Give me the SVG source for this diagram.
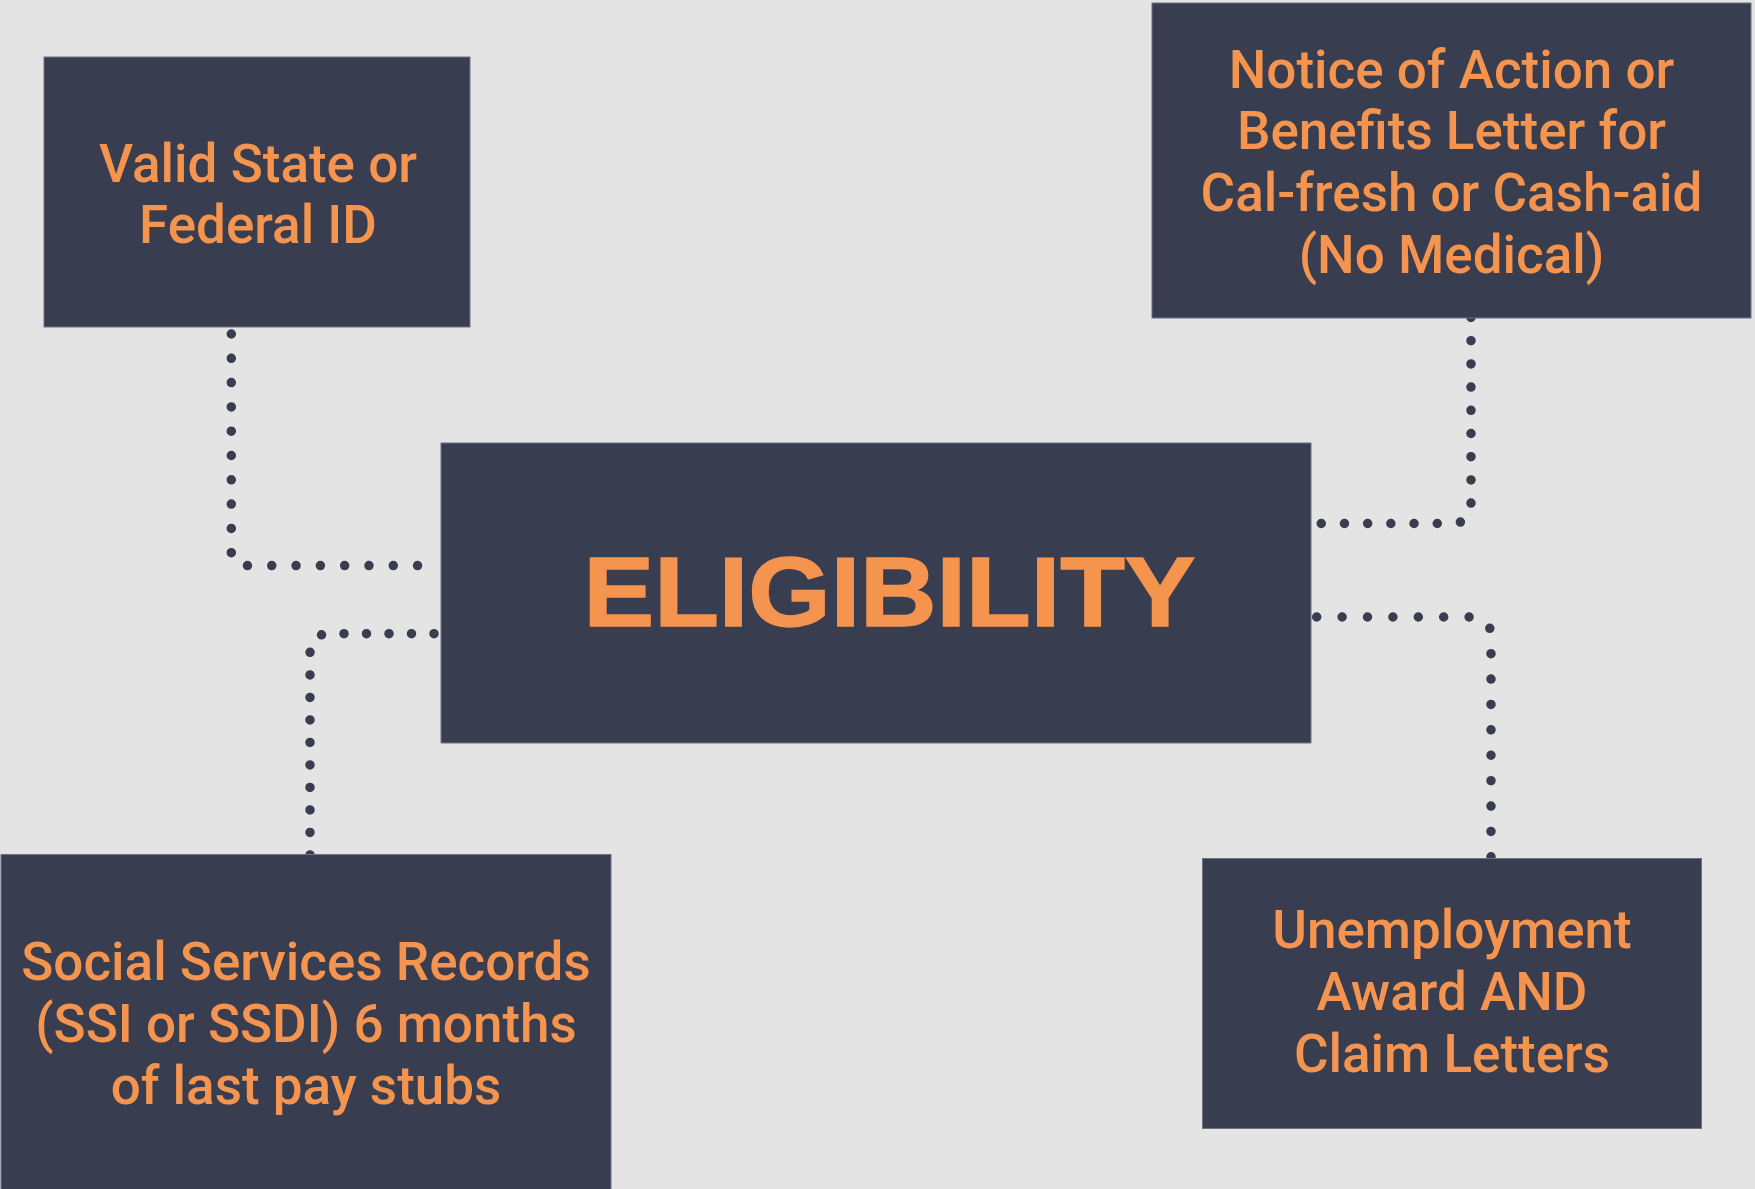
<svg xmlns="http://www.w3.org/2000/svg" width="1755" height="1189" viewBox="0 0 1755 1189">
  <style>
    .box { fill: #383d4f; stroke: #6e7383; stroke-width: 1; }
    .lbl { font-family: Roboto, "Liberation Sans", sans-serif; font-weight: 500; font-size: 53px; fill: #f5944f; text-anchor: middle; }
    .title { font-family: "Liberation Sans", Arial, sans-serif; font-weight: bold; font-size: 98px; fill: #f5944f; stroke: #f5944f; stroke-width: 1.5; stroke-linejoin: miter; text-anchor: middle; }
    .dot { fill: none; stroke: #383d4f; stroke-width: 9.5; stroke-linecap: round; }
  </style>
  <rect width="1755" height="1189" fill="#e4e4e4"/>
  <g id="connectors">
    <path class="dot" stroke-dasharray="0 24.3" d="M231.3,334 V553.3 Q231.3,565.6 243.6,565.6 H441"/>
    <path class="dot" stroke-dasharray="0 22.5" d="M434,633.7 H330 Q310,633.7 310,653.7 V856"/>
    <path class="dot" stroke-dasharray="0 23.2" d="M1471,317.5 V503.5 Q1471,523.5 1451,523.5 H1311"/>
    <path class="dot" stroke-dasharray="0 25.4" d="M1316.7,617 H1471 Q1491,617 1491,637 V859"/>
  </g>
  <g id="node-eligibility">
    <rect class="box" x="441" y="443" width="870" height="300"/>
    <text class="title" x="889.5" y="626" textLength="612" lengthAdjust="spacingAndGlyphs">ELIGIBILITY</text>
  </g>
  <g id="node-id">
    <rect class="box" x="44" y="57" width="426" height="270"/>
    <text class="lbl" x="258" y="182">Valid State or</text>
    <text class="lbl" x="258" y="242.5">Federal ID</text>
  </g>
  <g id="node-notice">
    <rect class="box" x="1152" y="3" width="599" height="315"/>
    <text class="lbl" x="1451.5" y="87.5">Notice of Action or</text>
    <text class="lbl" x="1451.5" y="149">Benefits Letter for</text>
    <text class="lbl" x="1451.5" y="210.7">Cal-fresh or Cash-aid</text>
    <text class="lbl" x="1451.5" y="272.5">(No Medical)</text>
  </g>
  <g id="node-social">
    <rect class="box" x="1" y="854.5" width="610" height="340"/>
    <text class="lbl" x="306" y="980">Social Services Records</text>
    <text class="lbl" x="306" y="1041.7">(SSI or SSDI) 6 months</text>
    <text class="lbl" x="306" y="1104">of last pay stubs</text>
  </g>
  <g id="node-unemployment">
    <rect class="box" x="1202.5" y="858.5" width="499" height="270"/>
    <text class="lbl" x="1452" y="948.3">Unemployment</text>
    <text class="lbl" x="1452" y="1010">Award AND</text>
    <text class="lbl" x="1452" y="1071.7">Claim Letters</text>
  </g>
</svg>
